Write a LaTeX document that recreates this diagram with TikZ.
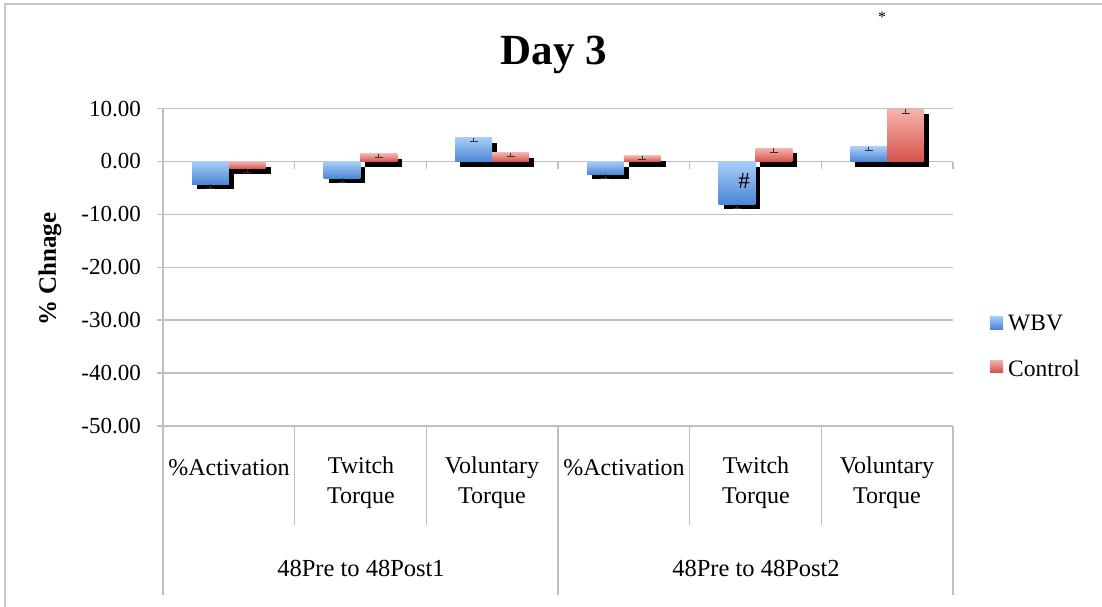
\documentclass[tikz,border=0pt]{standalone}
\usepackage{fontspec}
\setmainfont{Liberation Serif}
\definecolor{gridc}{HTML}{BFBFBF}
\definecolor{framec}{HTML}{C8C8C8}
\definecolor{blueT}{HTML}{A9CDF8}
\definecolor{blueB}{HTML}{4A87D6}
\definecolor{redT}{HTML}{F6B3AC}
\definecolor{redB}{HTML}{D6534C}
\begin{document}
\begin{tikzpicture}[x=1pt,y=-1pt,
  gridline/.style={draw=gridc,line width=1.5pt},
  ticklabel/.style={anchor=east,inner sep=0pt,font=\fontsize{23}{26}\selectfont},
  catlabel/.style={align=center,inner sep=0pt,font=\fontsize{24}{30}\selectfont},
  grouplabel/.style={inner sep=0pt,font=\fontsize{24.5}{28}\selectfont},
  legendtext/.style={anchor=west,inner sep=0pt,font=\fontsize{23.5}{26}\selectfont},
  errbar/.style={draw=black!80,line width=0.9pt},
  shadowbox/.style={fill=black}]
\useasboundingbox (0,0) rectangle (1102,607);
\fill[white] (0,0) rectangle (1102,607);
% outer frame
\draw[framec,line width=2pt] (5,607) -- (5,4) -- (1102,4);
% gridlines and value labels
\foreach \v in {10,0,-10,-20,-30,-40,-50}{
  \pgfmathsetmacro\yy{161.5-5.29*\v}
  \draw[gridline] (157,\yy) -- (953,\yy);
  \node[ticklabel] (tick\v) at (141,\yy) {\v.00};
}
% left axis
\draw[gridline] (163,108.6) -- (163,595);
% ticks on zero line
\foreach \i in {1,...,6}{
  \pgfmathsetmacro\xx{163+131.67*\i}
  \draw[gridline] (\xx,161.5) -- (\xx,169);
}
% category dividers
\foreach \i in {1,2,4,5}{
  \pgfmathsetmacro\xx{163+131.67*\i}
  \draw[gridline] (\xx,426) -- (\xx,525);
}
\foreach \i in {3,6}{
  \pgfmathsetmacro\xx{163+131.67*\i}
  \draw[gridline] (\xx,426) -- (\xx,595);
}
% bars
\foreach \i/\a/\b in {0/-4.3/-1.4, 1/-3.2/1.5, 2/4.5/1.7, 3/-2.4/1.1, 4/-8.1/2.5, 5/2.8/9.9}{
  \pgfmathsetmacro\L{163+131.67*\i}
  \pgfmathsetmacro\ya{161.5-5.29*\a}
  \pgfmathsetmacro\yb{161.5-5.29*\b}
  \fill[shadowbox] ({\L+34},166.5) rectangle ({\L+70.8},{\ya+5});
  \shade[top color=blueT,bottom color=blueB] ({\L+29},161.5) rectangle ({\L+65.8},\ya);
  \fill[shadowbox] ({\L+70.8},166.5) rectangle ({\L+107.6},{\yb+5});
  \shade[top color=redT,bottom color=redB] ({\L+65.8},161.5) rectangle ({\L+102.6},\yb);
  \draw[errbar] ({\L+47.4},\ya) -- ({\L+47.4},{\ya+4}) ({\L+43.4},{\ya+4}) -- ({\L+51.4},{\ya+4});
  \draw[errbar] ({\L+84.2},\yb) -- ({\L+84.2},{\yb+4}) ({\L+80.2},{\yb+4}) -- ({\L+88.2},{\yb+4});
}
% category labels
\node[catlabel] (c1) at (229,468) {\%Activation};
\node[catlabel] (c2) at (361,483) {Twitch\\Torque};
\node[catlabel] (c3) at (492,483) {Voluntary\\Torque};
\node[catlabel] (c4) at (624,468) {\%Activation};
\node[catlabel] (c5) at (756,483) {Twitch\\Torque};
\node[catlabel] (c6) at (887,483) {Voluntary\\Torque};
\node[grouplabel] (g1) at (361,568) {48Pre to 48Post1};
\node[grouplabel] (g2) at (756,568) {48Pre to 48Post2};
% title and axis title
\node[font=\fontsize{43}{46}\selectfont\bfseries,inner sep=0pt] (title) at (554,55) {Day 3};
\node[font=\fontsize{25}{28}\selectfont\bfseries,rotate=90,inner sep=0pt] (ytitle) at (50,269) {\% Chnage};
% annotations
\node[font=\fontsize{23}{26}\selectfont,inner sep=0pt] (hash) at (744,181) {\#};
\node[font=\fontsize{16}{18}\selectfont,inner sep=0pt] (star) at (882,17) {*};
% legend
\fill[shade,top color=blueT,bottom color=blueB] (990,316) rectangle (1003,329);
\node[legendtext] (lw) at (1008,323) {WBV};
\fill[shade,top color=redT,bottom color=redB] (990,360) rectangle (1003,372);
\node[legendtext] (lc) at (1008,368) {Control};
\end{tikzpicture}
\end{document}
